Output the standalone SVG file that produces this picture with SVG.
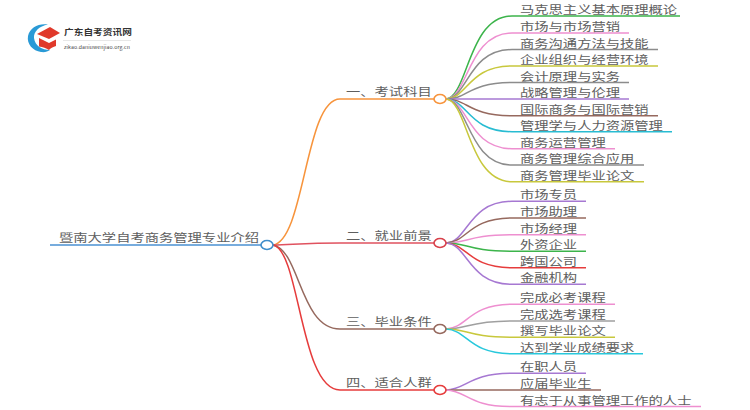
<svg xmlns="http://www.w3.org/2000/svg" width="750" height="410" viewBox="0 0 750 410">
<style>
text{font-family:"Noto Sans CJK SC","Liberation Sans",sans-serif;fill:#5e5e5e;font-size:14.3px}
.l{fill:none;stroke-width:1.5}
.n{fill:#fff;stroke-width:1.6}
</style>
<rect width="750" height="410" fill="#fff"/>
<g id="logo">
<path d="M48 24.500C39 23 30 27 28 36C26.500 44 33 51 41 52C45 52.500 48 51.500 50 50C42 50 35 46 34 38C33.500 32 39 26 48 24.500Z" fill="#2a9ad6"/>
<path d="M37 34L50 27L60 33L49 39Z" fill="#e0392b"/>
<path d="M39 38L49 43L56 39.500V46C52 47 50 49 49 50C46 48 43 47 39 46.500Z" fill="#e0392b"/>
<text transform="translate(64 35) scale(1 .85)" style="font-size:9.700px;font-weight:700;fill:#333">广东自考资讯网</text>
<rect x="63" y="40" width="68" height="0.700" fill="#ddd"/>
<text transform="translate(64 49) scale(1 .85)" style="font-size:5.200px;letter-spacing:.1px;fill:#444">zikao.daniuwenjiao.org.cn</text>
</g>
<g id="connectors">
<path class="l" stroke="#4a90d2" d="M50 245H262"/>
<path class="l" stroke="#f7943c" d="M273 245C305 240 305 99 340 99H434"/>
<path class="l" stroke="#e0525f" d="M273 245C300 244 310 243 340 243H434"/>
<path class="l" stroke="#96695e" d="M273 245C300 250 300 329 340 329H434"/>
<path class="l" stroke="#e63c3c" d="M273 245C300 250 300 390 340 390H434"/>
<g>
<path class="l" stroke="#3cb44b" d="M446 99C468 97 468 16 512 16H680"/>
<path class="l" stroke="#ee8fd0" d="M446 99C468 98 468 33 512 33H629"/>
<path class="l" stroke="#8c8c8c" d="M446 99C468 98 468 49.500 512 49.500H658"/>
<path class="l" stroke="#c8c83c" d="M446 99C468 98 468 66 512 66H658"/>
<path class="l" stroke="#8c8c8c" d="M446 99C468 99 468 82.500 512 82.500H629"/>
<path class="l" stroke="#a678d2" d="M446 99H629"/>
<path class="l" stroke="#96695e" d="M446 99C468 99 468 115.700 512 115.700H658"/>
<path class="l" stroke="#28bcd2" d="M446 99C468 100 468 131.700 512 131.700H672"/>
<path class="l" stroke="#ee8fd0" d="M446 99C468 100 468 148.700 512 148.700H615"/>
<path class="l" stroke="#8c8c8c" d="M446 99C468 100 468 165 512 165H644"/>
<path class="l" stroke="#c8c83c" d="M446 99C468 101 468 181.700 512 181.700H644"/>
</g>
<g>
<path class="l" stroke="#a678d2" d="M446 243C468 242 468 201.300 512 201.300H586"/>
<path class="l" stroke="#96695e" d="M446 243C468 242 468 218 512 218H586"/>
<path class="l" stroke="#ee8fd0" d="M446 243C468 243 468 234.700 512 234.700H586"/>
<path class="l" stroke="#3cb44b" d="M446 243C468 243 468 251.300 512 251.300H586"/>
<path class="l" stroke="#e63c3c" d="M446 243C468 244 468 267.700 512 267.700H586"/>
<path class="l" stroke="#a678d2" d="M446 243C468 244 468 284.300 512 284.300H586"/>
</g>
<g>
<path class="l" stroke="#ee8fd0" d="M446 329C468 328 468 304.300 512 304.300H615"/>
<path class="l" stroke="#a0a0a0" d="M446 329C468 329 468 321 512 321H615"/>
<path class="l" stroke="#c8c83c" d="M446 329C468 329 468 337.300 512 337.300H615"/>
<path class="l" stroke="#28c8dc" d="M446 329C468 330 468 353.700 512 353.700H643"/>
</g>
<g>
<path class="l" stroke="#a678d2" d="M446 390C468 389 468 373.300 512 373.300H586"/>
<path class="l" stroke="#96695e" d="M446 390H601"/>
<path class="l" stroke="#ee8fd0" d="M446 390C468 391 468 406.500 512 406.500H701"/>
</g>
</g>
<g id="root"><ellipse class="n" cx="267" cy="245" rx="6" ry="4.500" stroke="#3f8ecb"/><text transform="translate(59 242) scale(1 .78)">暨南大学自考商务管理专业介绍</text></g>
<g id="b1"><ellipse class="n" cx="440" cy="99" rx="6" ry="4.500" stroke="#f7943c"/><text transform="translate(346 96) scale(1 .78)">一、考试科目</text></g>
<g id="b2"><ellipse class="n" cx="440" cy="243" rx="6" ry="4.500" stroke="#d8404a"/><text transform="translate(346 240) scale(1 .78)">二、就业前景</text></g>
<g id="b3"><ellipse class="n" cx="440" cy="329" rx="6" ry="4.500" stroke="#96695e"/><text transform="translate(346 326) scale(1 .78)">三、毕业条件</text></g>
<g id="b4"><ellipse class="n" cx="440" cy="390" rx="6" ry="4.500" stroke="#e63c3c"/><text transform="translate(346 387) scale(1 .78)">四、适合人群</text></g>
<g id="leaves">
<g id="n1"><text transform="translate(520 14) scale(1 .78)">马克思主义基本原理概论</text></g>
<g id="n2"><text transform="translate(520 31) scale(1 .78)">市场与市场营销</text></g>
<g id="n3"><text transform="translate(520 47.500) scale(1 .78)">商务沟通方法与技能</text></g>
<g id="n4"><text transform="translate(520 64) scale(1 .78)">企业组织与经营环境</text></g>
<g id="n5"><text transform="translate(520 80.500) scale(1 .78)">会计原理与实务</text></g>
<g id="n6"><text transform="translate(520 97) scale(1 .78)">战略管理与伦理</text></g>
<g id="n7"><text transform="translate(520 113.700) scale(1 .78)">国际商务与国际营销</text></g>
<g id="n8"><text transform="translate(520 129.700) scale(1 .78)">管理学与人力资源管理</text></g>
<g id="n9"><text transform="translate(520 146.700) scale(1 .78)">商务运营管理</text></g>
<g id="n10"><text transform="translate(520 163) scale(1 .78)">商务管理综合应用</text></g>
<g id="n11"><text transform="translate(520 179.700) scale(1 .78)">商务管理毕业论文</text></g>
<g id="n12"><text transform="translate(520 199.300) scale(1 .78)">市场专员</text></g>
<g id="n13"><text transform="translate(520 216) scale(1 .78)">市场助理</text></g>
<g id="n14"><text transform="translate(520 232.700) scale(1 .78)">市场经理</text></g>
<g id="n15"><text transform="translate(520 249.300) scale(1 .78)">外资企业</text></g>
<g id="n16"><text transform="translate(520 265.700) scale(1 .78)">跨国公司</text></g>
<g id="n17"><text transform="translate(520 282.300) scale(1 .78)">金融机构</text></g>
<g id="n18"><text transform="translate(520 302.300) scale(1 .78)">完成必考课程</text></g>
<g id="n19"><text transform="translate(520 319) scale(1 .78)">完成选考课程</text></g>
<g id="n20"><text transform="translate(520 335.300) scale(1 .78)">撰写毕业论文</text></g>
<g id="n21"><text transform="translate(520 351.700) scale(1 .78)">达到学业成绩要求</text></g>
<g id="n22"><text transform="translate(520 371.300) scale(1 .78)">在职人员</text></g>
<g id="n23"><text transform="translate(520 388) scale(1 .78)">应届毕业生</text></g>
<g id="n24"><text transform="translate(520 404.500) scale(1 .78)">有志于从事管理工作的人士</text></g>
</g>
</svg>
